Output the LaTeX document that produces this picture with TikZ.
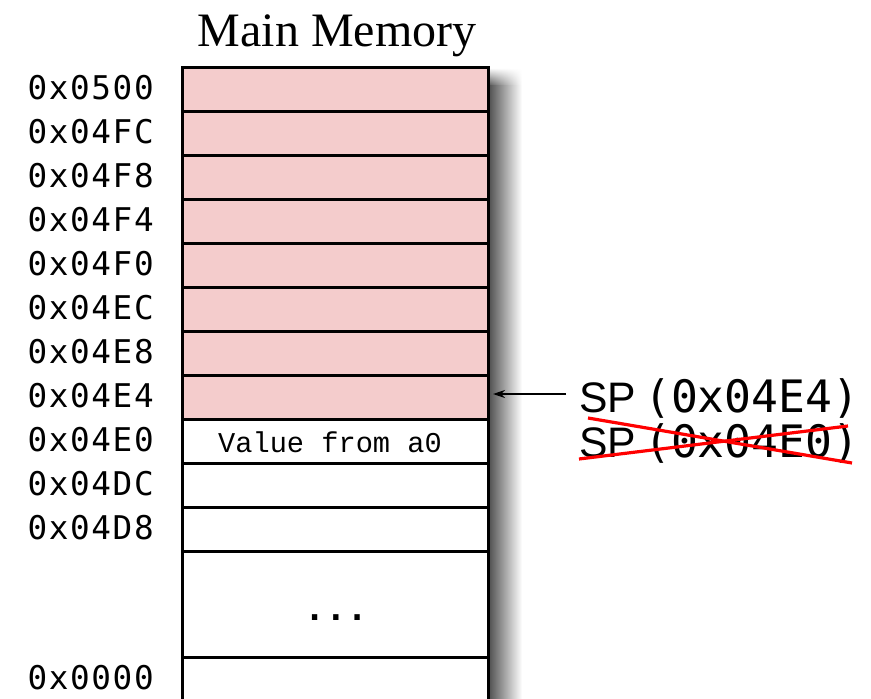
\documentclass[tikz,border=0pt]{standalone}
\usepackage{fontspec}
\setmainfont{Liberation Serif}
\newfontfamily\addrfont[LetterSpace=5]{DejaVu Sans Mono}
\newfontfamily\spmono{DejaVu Sans Mono}
\newfontfamily\spsans{Liberation Sans}
\newfontfamily\cellfont{Liberation Mono}
\usetikzlibrary{arrows.meta,fadings}
\definecolor{stackpink}{HTML}{F4CCCC}
\definecolor{crossred}{HTML}{FF0000}
\tikzset{
  cell/.style={draw=black, line width=2pt, inner sep=0pt, anchor=north west,
    minimum width=229.5pt, minimum height=33pt},
  used/.style={cell, fill=stackpink},
  free/.style={cell, fill=white},
  addr/.style={anchor=east, inner sep=0pt, font=\addrfont\fontsize{24.5pt}{29pt}\selectfont},
  sptext/.style={anchor=base west, inner sep=0pt, font=\fontsize{32pt}{38pt}\selectfont},
  strike/.style={draw=crossred, line width=2.4pt},
  pointer/.style={draw=black, line width=1.1pt, -{Stealth[length=9pt,width=6pt]}},
  sideshadow/.style={left color=black!72, right color=white},
}
\begin{document}
\begin{tikzpicture}[x=0.75pt, y=-0.75pt]
\useasboundingbox (0,0) rectangle (871,699);

% title
\node[anchor=base, inner sep=0pt, font=\fontsize{36pt}{42pt}\selectfont] (title) at (337,47) {Main Memory};

% soft shadow along the right side of the column
\shade[sideshadow] (487,86) rectangle (522,705);
\shade[sideshadow, path fading=north] (487,68) rectangle (522,86);

% memory column
\node[draw=black, line width=2pt, fill=white, anchor=north west, inner sep=0pt,
  minimum width=229.5pt, minimum height=480pt] (column) at (181,66) {};

% occupied stack words
\node[used] (r0) at (181,66)  {};
\node[used] (r1) at (181,110) {};
\node[used] (r2) at (181,154) {};
\node[used] (r3) at (181,198) {};
\node[used] (r4) at (181,242) {};
\node[used] (r5) at (181,286) {};
\node[used] (r6) at (181,330) {};
\node[used] (r7) at (181,374) {};
% free words
\node[free] (r8) at (181,418) {};
\node[free] (r9) at (181,462) {};
\node[free] (r10) at (181,506) {};
\node[free, minimum height=79.5pt] (gap) at (181,550) {};
\node[free, minimum height=45pt] (r11) at (181,656) {};

\node[inner sep=0pt, font=\cellfont\fontsize{21.5pt}{25pt}\selectfont] (val) at (330,442) {Value from a0};
\node[anchor=base, inner sep=0pt, font=\addrfont\bfseries\fontsize{24.5pt}{29pt}\selectfont] (dots) at (336,620) {...};

% addresses
\node[addr] (a0) at (154,88)  {0x0500};
\node[addr] (a1) at (154,132) {0x04FC};
\node[addr] (a2) at (154,176) {0x04F8};
\node[addr] (a3) at (154,220) {0x04F4};
\node[addr] (a4) at (154,264) {0x04F0};
\node[addr] (a5) at (154,308) {0x04EC};
\node[addr] (a6) at (154,352) {0x04E8};
\node[addr] (a7) at (154,396) {0x04E4};
\node[addr] (a8) at (154,440) {0x04E0};
\node[addr] (a9) at (154,484) {0x04DC};
\node[addr] (a10) at (154,528) {0x04D8};
\node[addr] (a11) at (154,678) {0x0000};

% stack pointer labels
\node[sptext] (sp) at (579,412) {{\spsans SP}\hspace{6pt}{\spmono\fontsize{33.5pt}{38pt}\selectfont (0x04E4)}};
\node[sptext] (spold) at (579,457) {{\spsans SP}\hspace{6pt}{\spmono\fontsize{33.5pt}{38pt}\selectfont (0x04E0)}};

\coordinate (ptail) at (566,394);
\coordinate (phead) at (493,394);
\draw[pointer] (ptail) -- (phead);

% crossed-out old value
\coordinate (c1a) at (588,418);
\coordinate (c1b) at (852,463);
\coordinate (c2a) at (579,459);
\coordinate (c2b) at (848,426);
\draw[strike] (c1a) -- (c1b);
\draw[strike] (c2a) -- (c2b);
\end{tikzpicture}
\end{document}
